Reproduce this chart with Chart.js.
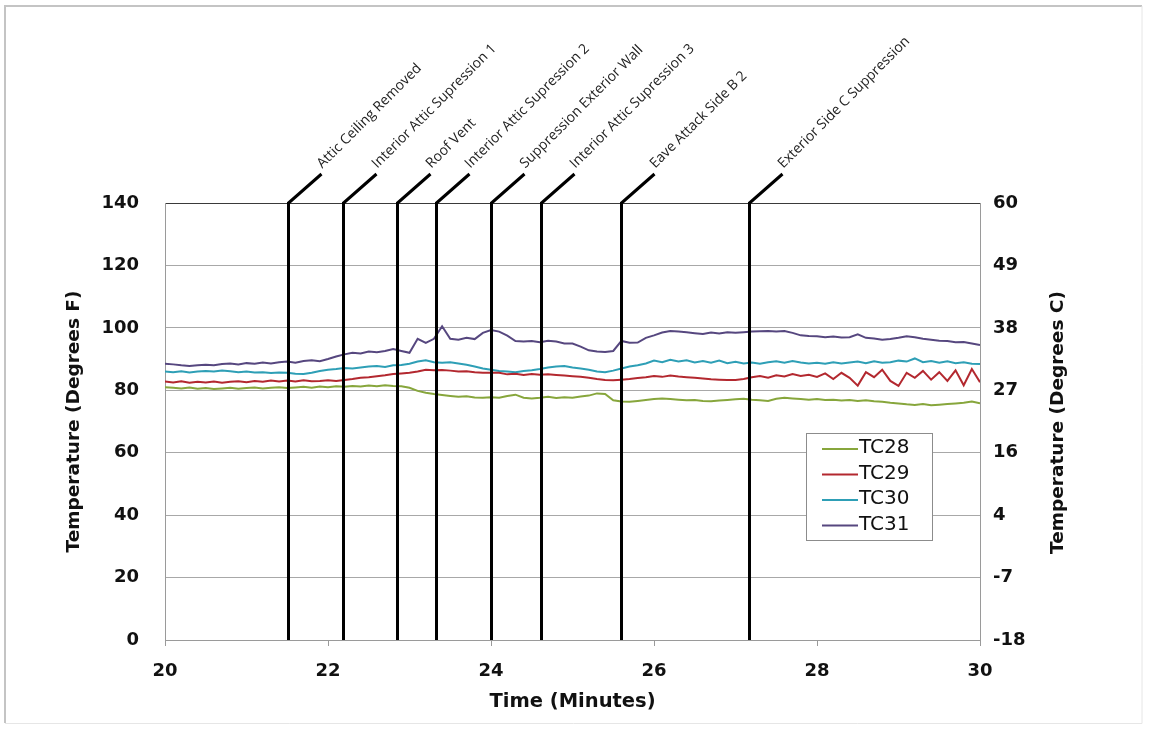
<!DOCTYPE html>
<html>
<head>
<meta charset="utf-8">
<script src="https://cdn.jsdelivr.net/npm/chart.js@4.4.1/dist/chart.umd.min.js"></script>
<style>
  html, body { margin: 0; padding: 0; background: #fff; }
  #wrap { width: 1149px; height: 730px; position: relative; }
</style>
</head>
<body>
<div id="wrap"><canvas id="c" width="1149" height="730"></canvas></div>
<script>
// ---- data ----
const times = [20.0,20.1,20.2,20.3,20.4,20.5,20.6,20.7,20.8,20.9,
  21.0,21.1,21.2,21.3,21.4,21.5,21.6,21.7,21.8,21.9,
  22.0,22.1,22.2,22.3,22.4,22.5,22.6,22.7,22.8,22.9,
  23.0,23.1,23.2,23.3,23.4,23.5,23.6,23.7,23.8,23.9,
  24.0,24.1,24.2,24.3,24.4,24.5,24.6,24.7,24.8,24.9,
  25.0,25.1,25.2,25.3,25.4,25.5,25.6,25.7,25.8,25.9,
  26.0,26.1,26.2,26.3,26.4,26.5,26.6,26.7,26.8,26.9,
  27.0,27.1,27.2,27.3,27.4,27.5,27.6,27.7,27.8,27.9,
  28.0,28.1,28.2,28.3,28.4,28.5,28.6,28.7,28.8,28.9,
  29.0,29.1,29.2,29.3,29.4,29.5,29.6,29.7,29.8,29.9,30.0];

const tc28 = [81.0,80.8,80.6,80.9,80.5,80.7,80.4,80.6,80.8,80.5,
  80.7,80.9,80.6,80.8,81.0,80.7,80.9,81.1,80.8,81.2,
  81.0,81.3,81.1,81.4,81.2,81.5,81.3,81.6,81.4,81.3,
  80.8,79.8,79.2,78.8,78.5,78.2,77.9,78.1,77.7,77.6,
  77.8,77.6,78.2,78.6,77.6,77.4,77.6,77.9,77.5,77.8,
  77.6,78.0,78.3,79.0,78.8,76.8,76.4,76.3,76.6,76.9,
  77.2,77.4,77.2,77.0,76.8,76.9,76.6,76.5,76.7,76.9,
  77.1,77.3,77.0,76.8,76.6,77.3,77.6,77.4,77.2,77.0,
  77.2,76.9,77.0,76.7,76.9,76.6,76.8,76.5,76.3,76.0,
  75.8,75.5,75.3,75.6,75.2,75.4,75.6,75.8,76.0,76.4,75.8];

const tc29 = [82.8,82.5,82.9,82.4,82.7,82.5,82.8,82.4,82.7,82.9,
  82.6,83.0,82.7,83.1,82.8,83.1,82.8,83.2,82.9,83.0,
  83.2,83.0,83.3,83.6,84.0,84.2,84.5,84.8,85.2,85.4,
  85.6,86.0,86.6,86.4,86.5,86.3,86.0,86.1,85.8,85.6,
  85.6,85.6,85.1,85.3,84.9,85.2,85.0,85.1,84.9,84.7,
  84.5,84.3,84.0,83.6,83.3,83.2,83.4,83.6,83.9,84.2,
  84.6,84.3,84.7,84.4,84.2,84.0,83.8,83.5,83.4,83.3,
  83.3,83.6,84.2,84.6,84.0,84.8,84.4,85.2,84.6,85.0,
  84.3,85.4,83.6,85.6,84.0,81.5,85.8,84.2,86.6,83.0,
  81.4,85.6,84.0,86.2,83.4,85.8,83.0,86.4,81.6,86.8,82.6];

const tc30 = [86.0,85.8,86.1,85.7,86.0,86.2,86.0,86.3,86.1,85.8,
  86.0,85.7,85.8,85.5,85.7,85.6,85.3,85.2,85.6,86.2,
  86.6,86.8,87.1,87.0,87.3,87.6,87.8,87.5,88.0,88.1,
  88.5,89.2,89.6,89.0,88.8,89.0,88.6,88.2,87.6,87.0,
  86.6,86.2,86.0,85.8,86.2,86.4,86.8,87.3,87.6,87.8,
  87.3,87.0,86.6,86.0,85.8,86.3,87.0,87.6,88.0,88.6,
  89.5,89.0,89.8,89.2,89.6,88.9,89.4,88.8,89.5,88.7,
  89.1,88.6,88.9,88.5,89.0,89.3,88.8,89.4,88.9,88.6,
  88.8,88.5,89.0,88.6,88.9,89.2,88.7,89.3,88.8,89.0,
  89.5,89.2,90.2,89.0,89.4,88.8,89.3,88.7,89.0,88.5,88.4];

const tc31 = [88.5,88.3,88.0,87.8,88.0,88.2,88.0,88.4,88.6,88.3,
  88.7,88.5,88.9,88.6,89.0,89.2,88.8,89.4,89.6,89.3,
  90.0,90.8,91.5,92.0,91.8,92.4,92.2,92.6,93.2,92.6,
  92.0,96.5,95.2,96.5,100.5,96.5,96.2,96.8,96.4,98.4,
  99.3,98.8,97.5,95.8,95.6,95.8,95.4,95.9,95.6,95.0,
  95.0,94.0,92.8,92.4,92.3,92.6,95.8,95.2,95.3,96.8,
  97.6,98.5,99.0,98.8,98.6,98.3,98.0,98.5,98.2,98.6,
  98.4,98.6,98.8,98.9,99.0,98.8,99.0,98.4,97.6,97.4,
  97.3,97.0,97.2,96.9,97.0,97.9,96.8,96.6,96.2,96.4,
  96.8,97.3,97.0,96.5,96.2,95.9,95.8,95.4,95.5,95.0,94.5];

const seriesNames = ['TC28', 'TC29', 'TC30', 'TC31'];
const seriesColors = ['#87a63c', '#b3282f', '#2e9fb6', '#56477f'];

const eventTimes = [21.51, 22.18, 22.85, 23.33, 24.0, 24.61, 25.60, 27.17];
const eventLabels = ['Attic Ceiling Removed', 'Interior Attic Supression 1', 'Roof Vent',
  'Interior Attic Supression 2', 'Suppression Exterior Wall', 'Interior Attic Supression 3',
  'Eave Attack Side B 2', 'Exterior Side C Suppression'];

const fTicks = [0, 20, 40, 60, 80, 100, 120, 140];
const cTickLabels = ['-18', '-7', '4', '16', '27', '38', '49', '60'];

// ---- build ----
const allSeries = [tc28, tc29, tc30, tc31];
const datasets = allSeries.map((vals, i) => ({
  label: seriesNames[i],
  data: vals.map((v, k) => ({ x: times[k], y: v })),
  borderColor: seriesColors[i],
  backgroundColor: seriesColors[i],
  borderWidth: 2,
  pointRadius: 0,
  tension: 0,
  yAxisID: 'y'
}));

const tickFont = { family: 'DejaVu Sans', weight: 'bold', size: 18 };
const yTitleFont = { family: 'DejaVu Sans', weight: 'bold', size: 18.5 };

const overlay = {
  id: 'overlay',
  beforeDraw(chart) {
    const ctx = chart.ctx;
    ctx.save();
    ctx.fillStyle = '#fff';
    ctx.fillRect(0, 0, chart.width, chart.height);
    ctx.restore();
  },
  afterDatasetsDraw(chart) {
    const { ctx, chartArea: a, scales: { x } } = chart;
    ctx.save();
    ctx.strokeStyle = '#000';
    ctx.lineWidth = 3;
    ctx.lineJoin = 'miter';
    eventTimes.forEach((t, i) => {
      const px = Math.round(x.getPixelForValue(t)) + 0.5;
      ctx.beginPath();
      ctx.moveTo(px, a.bottom);
      ctx.lineTo(px, a.top);
      ctx.lineTo(px + 33, a.top - 29);
      ctx.stroke();
      ctx.save();
      ctx.translate(px + 31, a.top - 37);
      ctx.rotate(-Math.PI / 4);
      ctx.font = '14px "Open Sans"';
      ctx.fillStyle = '#222';
      ctx.textAlign = 'left';
      ctx.textBaseline = 'middle';
      ctx.fillText(eventLabels[i], 0, 0);
      ctx.restore();
    });
    ctx.restore();
  },
  afterDraw(chart) {
    const { ctx, chartArea: a } = chart;
    ctx.save();
    // legend box
    const lx = 806.5, ly = 433.5, lw = 126, lh = 107;
    ctx.fillStyle = '#fff';
    ctx.fillRect(lx, ly, lw, lh);
    ctx.strokeStyle = '#8c8c8c';
    ctx.lineWidth = 1;
    ctx.strokeRect(lx, ly, lw, lh);
    ctx.font = '20px "DejaVu Sans"';
    ctx.textBaseline = 'middle';
    ctx.textAlign = 'left';
    seriesNames.forEach((n, i) => {
      const yy = 448 + i * 25.5;
      ctx.strokeStyle = seriesColors[i];
      ctx.lineWidth = 2;
      ctx.beginPath();
      ctx.moveTo(822, yy + 1);
      ctx.lineTo(858, yy + 1);
      ctx.stroke();
      ctx.fillStyle = '#111';
      ctx.fillText(n, 859, yy);
    });
    // right axis title (reads bottom to top)
    ctx.save();
    ctx.translate(1058, (a.top + a.bottom) / 2 + 1);
    ctx.rotate(-Math.PI / 2);
    ctx.font = 'bold 18.5px "DejaVu Sans"';
    ctx.fillStyle = '#111';
    ctx.textAlign = 'center';
    ctx.textBaseline = 'middle';
    ctx.fillText('Temperature (Degrees C)', 0, 0);
    ctx.restore();
    // outer frame
    ctx.strokeStyle = '#c4c4c4';
    ctx.lineWidth = 2;
    ctx.beginPath();
    ctx.moveTo(5, 723); ctx.lineTo(5, 6); ctx.lineTo(1142, 6);
    ctx.stroke();
    ctx.strokeStyle = '#e6e6e6';
    ctx.lineWidth = 1;
    ctx.beginPath();
    ctx.moveTo(1142, 6); ctx.lineTo(1142, 723.5); ctx.lineTo(5, 723.5);
    ctx.stroke();
    ctx.restore();
  }
};

new Chart(document.getElementById('c'), {
  type: 'line',
  data: { datasets },
  plugins: [overlay],
  options: {
    responsive: false,
    animation: false,
    layout: { padding: { top: 203, left: 0, right: 0, bottom: 0 } },
    plugins: { legend: { display: false }, tooltip: { enabled: false } },
    scales: {
      x: {
        type: 'linear',
        min: 20, max: 30,
        afterBuildTicks(s) { s.ticks = [20, 22, 24, 26, 28, 30].map(v => ({ value: v })); },
        afterFit(s) { s.height = 90; },
        ticks: { font: tickFont, color: '#111', padding: 15, maxRotation: 0 },
        grid: { drawOnChartArea: false, drawTicks: true, tickLength: 6, color: '#9a9a9a' },
        border: { color: '#9a9a9a', width: 1 },
        title: { display: true, text: 'Time (Minutes)', font: { family: 'DejaVu Sans', weight: 'bold', size: 19.5 }, color: '#111', padding: { top: 0, bottom: 16 } }
      },
      y: {
        position: 'left',
        min: 0, max: 140,
        afterBuildTicks(s) { s.ticks = fTicks.map(v => ({ value: v })); },
        afterFit(s) { s.width = 165; },
        ticks: { font: tickFont, color: '#111', padding: 26 },
        grid: {
          drawTicks: false,
          color: c => (c.tick && c.tick.value === 140) ? '#3a3a3a' : '#a8a8a8',
          lineWidth: 1
        },
        border: { color: '#9a9a9a', width: 1 },
        title: { display: true, text: 'Temperature (Degrees F)', font: yTitleFont, color: '#111', padding: { top: 63, bottom: 0 } }
      },
      y2: {
        position: 'right',
        min: 0, max: 140,
        afterBuildTicks(s) { s.ticks = fTicks.map(v => ({ value: v })); },
        afterFit(s) { s.width = 169; },
        ticks: { font: tickFont, color: '#111', padding: 13, callback: (v, i) => cTickLabels[i] },
        grid: { drawOnChartArea: false, drawTicks: false },
        border: { color: '#9a9a9a', width: 1 }
      }
    }
  }
});
</script>
</body>
</html>
